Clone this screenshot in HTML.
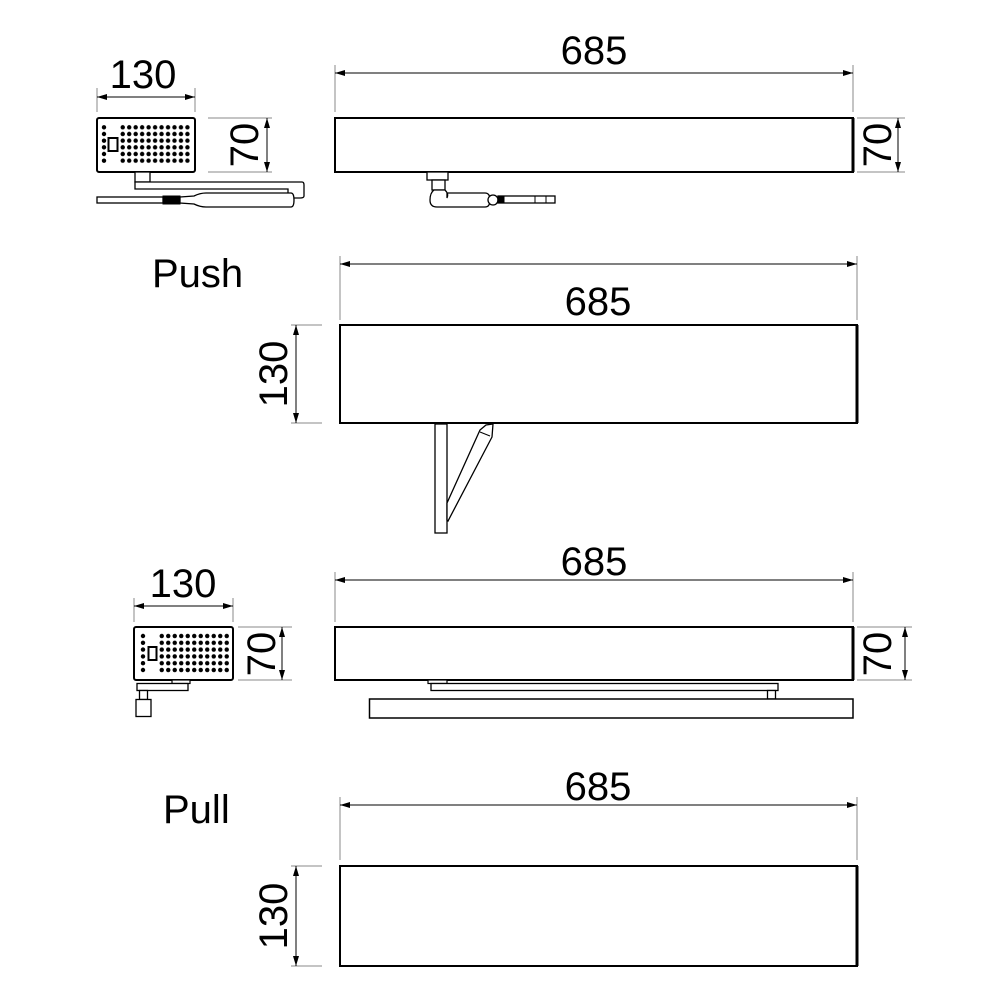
<!DOCTYPE html>
<html><head><meta charset="utf-8"><style>
html,body{margin:0;padding:0;background:#fff;}
svg{display:block;}
text{font-family:"Liberation Sans",sans-serif;font-size:40px;fill:#000;}
</style></head><body>
<svg width="1000" height="1000" viewBox="0 0 1000 1000" xmlns="http://www.w3.org/2000/svg">
<defs>
<marker id="a" viewBox="0 0 10 6" refX="10" refY="3" markerWidth="10" markerHeight="6" orient="auto-start-reverse" markerUnits="userSpaceOnUse"><path d="M0,0 L10,3 L0,6z" fill="#000"/></marker>
<pattern id="d1" x="119.5" y="124" width="6.47" height="6.67" patternUnits="userSpaceOnUse"><circle cx="3.23" cy="3.33" r="2.2" fill="#000"/></pattern>
<pattern id="d3" x="158.5" y="632.6" width="6.5" height="6.8" patternUnits="userSpaceOnUse"><circle cx="3.25" cy="3.4" r="2.2" fill="#000"/></pattern>
</defs>
<g stroke="#888" stroke-width="1" fill="none">
<line x1="97" y1="88" x2="97" y2="112"/><line x1="195" y1="88" x2="195" y2="112"/>
<line x1="208" y1="118" x2="272" y2="118"/><line x1="208" y1="172" x2="272" y2="172"/>
<line x1="335" y1="65" x2="335" y2="112"/><line x1="853" y1="65" x2="853" y2="112"/>
<line x1="857" y1="118" x2="905" y2="118"/><line x1="857" y1="172" x2="905" y2="172"/>
<line x1="340" y1="256" x2="340" y2="320"/><line x1="857" y1="256" x2="857" y2="320"/>
<line x1="291" y1="325" x2="322" y2="325"/><line x1="291" y1="423" x2="322" y2="423"/>
<line x1="134" y1="598" x2="134" y2="622"/><line x1="233" y1="598" x2="233" y2="622"/>
<line x1="238" y1="627" x2="292" y2="627"/><line x1="238" y1="680" x2="292" y2="680"/>
<line x1="335" y1="572" x2="335" y2="622"/><line x1="853" y1="572" x2="853" y2="622"/>
<line x1="857" y1="627" x2="912" y2="627"/><line x1="857" y1="680" x2="912" y2="680"/>
<line x1="340" y1="797" x2="340" y2="860"/><line x1="857" y1="797" x2="857" y2="860"/>
<line x1="291" y1="866" x2="322" y2="866"/><line x1="291" y1="966" x2="322" y2="966"/>
</g>
<g stroke="#000" stroke-width="1" fill="none" marker-start="url(#a)" marker-end="url(#a)">
<line x1="97" y1="97" x2="195" y2="97"/>
<line x1="267" y1="118" x2="267" y2="172"/>
<line x1="335" y1="73" x2="853" y2="73"/>
<line x1="898" y1="118" x2="898" y2="172"/>
<line x1="340" y1="264" x2="857" y2="264"/>
<line x1="296" y1="325" x2="296" y2="423"/>
<line x1="134" y1="606" x2="233" y2="606"/>
<line x1="282" y1="627" x2="282" y2="680"/>
<line x1="335" y1="580" x2="853" y2="580"/>
<line x1="905" y1="627" x2="905" y2="680"/>
<line x1="340" y1="805" x2="857" y2="805"/>
<line x1="296" y1="866" x2="296" y2="966"/>
</g>
<text x="143" y="88" text-anchor="middle">130</text>
<text transform="translate(258,145) rotate(-90)" text-anchor="middle">70</text>
<text x="594" y="64" text-anchor="middle">685</text>
<text transform="translate(891,145) rotate(-90)" text-anchor="middle">70</text>
<text x="152" y="287" font-size="38">Push</text>
<text x="598" y="315" text-anchor="middle">685</text>
<text transform="translate(287,374) rotate(-90)" text-anchor="middle">130</text>
<text x="183" y="597" text-anchor="middle">130</text>
<text transform="translate(275,654) rotate(-90)" text-anchor="middle">70</text>
<text x="594" y="575" text-anchor="middle">685</text>
<text transform="translate(891,654) rotate(-90)" text-anchor="middle">70</text>
<text x="163" y="823" font-size="38">Pull</text>
<text x="598" y="800" text-anchor="middle">685</text>
<text transform="translate(287,916) rotate(-90)" text-anchor="middle">130</text>

<g stroke="#000" fill="#fff">
<rect x="97" y="118" width="98" height="54" rx="2" stroke-width="2"/>
<rect x="119.5" y="124" width="71.2" height="40" fill="url(#d1)" stroke="none"/>
<g fill="#000" stroke="none"><circle cx="104" cy="127.3" r="2.2"/><circle cx="104" cy="134" r="2.2"/><circle cx="104" cy="140.7" r="2.2"/><circle cx="104" cy="147.3" r="2.2"/><circle cx="104" cy="154" r="2.2"/><circle cx="104" cy="160.7" r="2.2"/></g>
<rect x="108.5" y="138" width="9" height="13" stroke-width="2"/>
<rect x="135" y="172" width="15" height="10" stroke-width="1.3"/>
<path d="M135,182 H302 Q304,182 304,185 V196 Q304,198 300,198 H292 Q288,198 288,194 V189 H135 Z" stroke-width="1.3"/>
<rect x="97" y="197" width="66" height="6" stroke-width="1.3"/>
<rect x="163" y="196" width="17" height="8" fill="#000"/>
<path d="M180,197 L194,196 Q200,193 206,193 H291 Q294,193 294,200 Q294,207 291,207 H206 Q200,207 194,204 L180,203 Z" stroke-width="1.3"/>
<rect x="335" y="118" width="518" height="54" stroke-width="2"/>
<line x1="853" y1="118" x2="853" y2="172" stroke-width="3"/>
<rect x="427" y="172" width="21" height="8" stroke-width="1.3"/>
<rect x="432" y="180" width="13" height="10" stroke-width="1.3"/>
<path d="M434,190 H445 Q449,194 447,198 V193 H485 Q490,193 490,200 Q490,207 485,207 H437 Q430,207 430,200 Q430,193 434,190Z" stroke-width="1.3"/>
<circle cx="493" cy="200" r="5" stroke-width="1.3"/>
<rect x="498" y="196" width="57" height="7" stroke-width="1.3"/>
<rect x="498" y="196" width="6" height="7" fill="#000"/>
<line x1="535" y1="196" x2="535" y2="203"/><line x1="546" y1="196" x2="546" y2="203"/>
<rect x="340" y="325" width="517" height="98" stroke-width="2"/>
<line x1="857" y1="325" x2="857" y2="423" stroke-width="3"/>
<rect x="435" y="424" width="12" height="109" stroke-width="1.3"/>
<path d="M447,520 L447,503 L480,430 L486,425 L493,424 L492,437 L448,521 Z" stroke-width="1.3"/>
<line x1="480" y1="432" x2="490" y2="436" stroke-width="1"/>
<rect x="134" y="627" width="99" height="53" rx="2" stroke-width="2"/>
<rect x="158.5" y="632.6" width="71.5" height="41" fill="url(#d3)" stroke="none"/>
<g fill="#000" stroke="none"><circle cx="143" cy="636" r="2.2"/><circle cx="143" cy="642.8" r="2.2"/><circle cx="143" cy="649.6" r="2.2"/><circle cx="143" cy="656.4" r="2.2"/><circle cx="143" cy="663.2" r="2.2"/><circle cx="143" cy="670" r="2.2"/></g>
<rect x="148.5" y="647" width="8" height="13" stroke-width="2"/>
<rect x="172" y="680" width="18" height="3.5" stroke-width="1.2"/>
<rect x="137" y="683.5" width="51" height="7" stroke-width="1.3"/>
<rect x="139.5" y="690.5" width="8" height="9" stroke-width="1.3"/>
<rect x="136" y="699.5" width="15" height="17" stroke-width="1.3"/>
<rect x="335" y="627" width="518" height="53" stroke-width="2"/>
<line x1="853" y1="627" x2="853" y2="680" stroke-width="3"/>
<rect x="428" y="680" width="19" height="3.5" stroke-width="1.2"/>
<rect x="431" y="683.5" width="347" height="7" stroke-width="1.3"/>
<rect x="767.5" y="690.5" width="8" height="8.5" stroke-width="1.3"/>
<rect x="369.5" y="699" width="483.5" height="19" stroke-width="1.5"/>
<rect x="340" y="866" width="517" height="100" stroke-width="2"/>
<line x1="857" y1="866" x2="857" y2="966" stroke-width="3"/>
</g>
</svg>
</body></html>
